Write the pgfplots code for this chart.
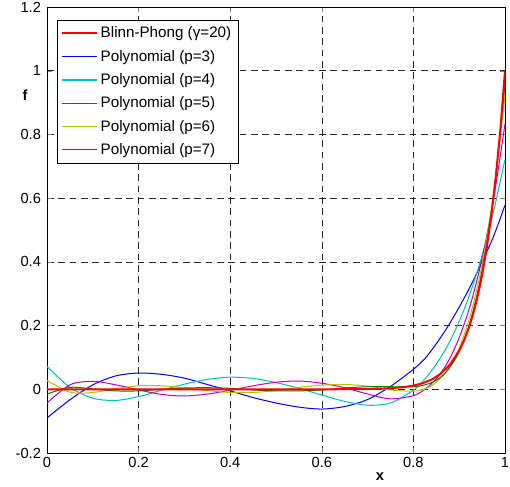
\documentclass[border=0pt]{standalone}
\usepackage{fontspec}
\setmainfont{Liberation Sans}
\usepackage{pgfplots}
\pgfplotsset{compat=1.18}
\definecolor{mblue}{rgb}{0,0,1}
\definecolor{mcyan}{rgb}{0,0.75,0.75}
\definecolor{mmag}{rgb}{0.75,0,0.75}
\definecolor{myel}{rgb}{0.75,0.75,0}
\definecolor{mgreen}{rgb}{0,0.5,0}
\definecolor{mred}{rgb}{1,0,0}
\begin{document}
\begin{tikzpicture}
\begin{axis}[
  scale only axis, width=343.5pt, height=334.5pt,
  xmin=0, xmax=1, ymin=-0.2, ymax=1.2,
  xtick={0,0.2,0.4,0.6,0.8,1},
  ytick={-0.2,0,0.2,0.4,0.6,0.8,1,1.2},
  /pgf/number format/assume math mode=true,
  tick label style={font=\fontsize{11}{13}\selectfont},
  yticklabel style={xshift=-1pt},
  tick align=inside, tick pos=both, major tick length=3.5pt,
  axis line style={line width=0.5pt},
  grid=major,
  major grid style={black!85, line width=0.45pt, dash pattern=on 5pt off 3.5pt},
  xlabel={\bfseries x}, ylabel={\bfseries f},
  label style={font=\fontsize{11}{13}\selectfont},
  xlabel style={at={(axis description cs:0.727,-0.052)}, anchor=center},
  ylabel style={at={(axis description cs:-0.048,0.803)}, anchor=center, rotate=-90},
  legend cell align=left,
  legend style={at={(axis description cs:0.022,0.971)}, anchor=north west,
    draw=black, fill=white, line width=0.5pt,
    font=\fontsize{11.4}{13.5}\selectfont,
    row sep=3.7pt, inner xsep=3pt, inner ysep=3pt},
  legend image code/.code={\draw[#1] (0pt,0pt) -- (26pt,0pt);},
  every axis plot/.append style={line width=0.75pt},
]
\addlegendimage{mred, line width=1.5pt}
\addlegendentry{Blinn-Phong (γ=20)}
\addlegendimage{mblue, line width=0.8pt}
\addlegendentry{Polynomial (p=3)}
\addlegendimage{mcyan, line width=0.8pt}
\addlegendentry{Polynomial (p=4)}
\addlegendimage{mmag, line width=0.8pt}
\addlegendentry{Polynomial (p=5)}
\addlegendimage{myel, line width=0.8pt}
\addlegendentry{Polynomial (p=6)}
\addlegendimage{mgreen, line width=0.8pt}
\addlegendentry{Polynomial (p=7)}

% p=3
\addplot[mblue, smooth, forget plot] coordinates {
(0,-0.090) (0.05,-0.033) (0.1,0.014) (0.15,0.042) (0.2,0.051) (0.25,0.047)
(0.3,0.035) (0.35,0.015) (0.4,-0.005) (0.45,-0.026) (0.5,-0.043) (0.55,-0.056)
(0.6,-0.062) (0.65,-0.054) (0.7,-0.032) (0.75,0.009) (0.8,0.063) (0.825,0.096)
(0.85,0.143) (0.875,0.197) (0.9,0.258) (0.925,0.325) (0.95,0.400) (0.975,0.480) (1,0.578)};
% p=4
\addplot[mcyan, smooth, forget plot] coordinates {
(0,0.072) (0.05,0.006) (0.1,-0.028) (0.15,-0.035) (0.2,-0.023) (0.25,-0.003)
(0.3,0.016) (0.35,0.031) (0.4,0.038) (0.45,0.034) (0.5,0.021) (0.55,0.003)
(0.6,-0.018) (0.65,-0.038) (0.7,-0.050) (0.75,-0.043) (0.8,-0.003) (0.825,0.032)
(0.85,0.079) (0.875,0.138) (0.9,0.213) (0.925,0.306) (0.95,0.420) (0.975,0.558) (1,0.722)};
% p=5
\addplot[mmag, smooth, forget plot] coordinates {
(0,-0.043) (0.05,0.014) (0.1,0.025) (0.15,0.014) (0.2,-0.002) (0.25,-0.016)
(0.3,-0.021) (0.35,-0.015) (0.4,-0.003) (0.45,0.011) (0.5,0.022) (0.55,0.026)
(0.6,0.019) (0.65,0.005) (0.7,-0.015) (0.75,-0.030) (0.8,-0.020) (0.825,0.000)
(0.85,0.033) (0.875,0.085) (0.9,0.162) (0.925,0.268) (0.95,0.411) (0.975,0.597) (1,0.833)};
% p=6
\addplot[myel, smooth, forget plot] coordinates {
(0,0.028) (0.05,-0.009) (0.1,-0.010) (0.15,0.002) (0.2,0.011) (0.25,0.011)
(0.3,0.004) (0.35,-0.004) (0.4,-0.010) (0.45,-0.010) (0.5,-0.004) (0.55,0.006)
(0.6,0.013) (0.65,0.015) (0.7,0.010) (0.75,-0.002) (0.8,-0.006) (0.825,0.001)
(0.85,0.022) (0.875,0.062) (0.9,0.130) (0.925,0.236) (0.95,0.392) (0.975,0.614) (1,0.925)};
% p=7
\addplot[mgreen, smooth, forget plot] coordinates {
(0,-0.015) (0.05,0.006) (0.1,0.001) (0.15,-0.005) (0.2,-0.005) (0.25,0.000)
(0.3,0.004) (0.35,0.005) (0.4,0.003) (0.45,-0.002) (0.5,-0.005) (0.55,-0.005)
(0.6,-0.002) (0.65,0.004) (0.7,0.008) (0.75,0.008) (0.8,0.008) (0.825,0.014)
(0.85,0.028) (0.875,0.060) (0.9,0.118) (0.925,0.217) (0.95,0.373) (0.975,0.611) (1,0.960)};
% Blinn-Phong
\addplot[mred, line width=1.5pt, forget plot] coordinates {
(0,0) (0.5,0) (0.6,0) (0.65,0.0002) (0.7,0.0008) (0.75,0.0032) (0.78,0.0070)
(0.8,0.0115) (0.82,0.0189) (0.84,0.0306) (0.86,0.0490) (0.88,0.0776) (0.9,0.1216)
(0.91,0.1516) (0.92,0.1887) (0.93,0.2342) (0.94,0.2901) (0.95,0.3585) (0.96,0.4420)
(0.97,0.5438) (0.98,0.6676) (0.99,0.8179) (1,1)};
\end{axis}
\pgfresetboundingbox
\path[use as bounding box] (-35.25pt,-24.75pt) rectangle (347.25pt,339.75pt);
\end{tikzpicture}
\end{document}
